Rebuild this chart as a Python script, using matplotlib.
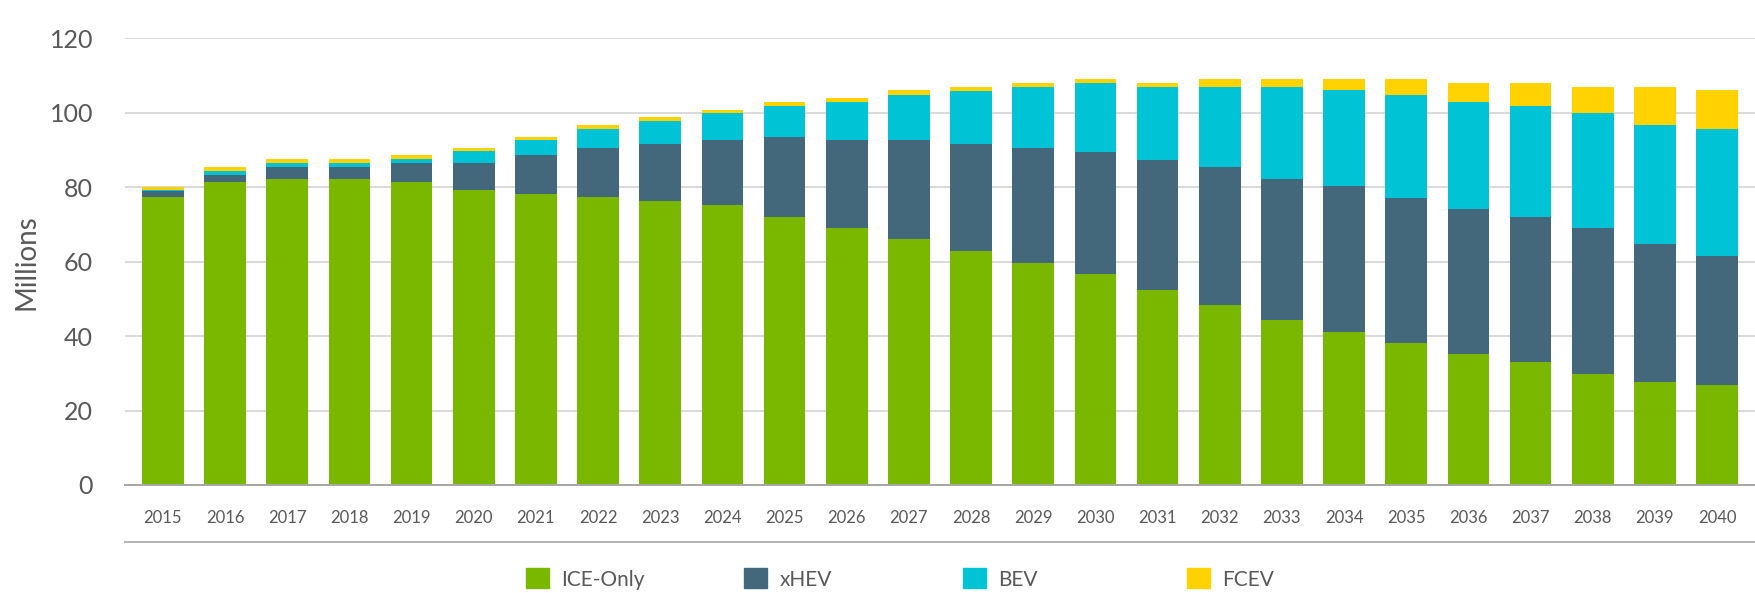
import numpy as np
import matplotlib
matplotlib.use("Agg")
import matplotlib.pyplot as plt
from matplotlib.lines import Line2D
from matplotlib.patches import Patch

# data (millions of vehicles)
years = [str(y) for y in range(2015, 2041)]
ice_only = [77.3, 81.3, 82.3, 82.3, 81.3, 79.3, 78.3, 77.3, 76.2, 75.1, 72.0, 69.0, 66.0,
            62.9, 59.7, 56.7, 52.5, 48.4, 44.3, 41.2, 38.1, 35.1, 33.0, 29.9, 27.8, 26.8]
xhev = [1.8, 2.0, 3.2, 3.2, 5.1, 7.1, 10.3, 13.2, 15.4, 17.5, 21.6, 23.6, 26.6,
        28.7, 30.8, 32.8, 34.9, 37.0, 38.0, 39.1, 39.1, 39.0, 38.9, 39.1, 37.0, 34.8]
bev = [0.2, 1.1, 1.1, 1.1, 1.1, 3.2, 4.0, 5.1, 6.1, 7.2, 8.2, 10.4, 12.3,
       14.3, 16.5, 18.6, 19.6, 21.6, 24.7, 25.7, 27.7, 28.9, 29.9, 30.8, 31.9, 34.1]
fcev = [0.8, 0.9, 0.9, 0.9, 1.1, 0.9, 1.0, 1.0, 1.1, 0.9, 1.1, 0.9, 1.1,
        1.1, 1.0, 1.0, 1.0, 2.1, 2.1, 3.1, 4.2, 5.0, 6.2, 7.2, 10.3, 10.3]

series = [("ICE-Only", ice_only, "#7ab800"),
          ("xHEV", xhev, "#43687b"),
          ("BEV", bev, "#00c4d6"),
          ("FCEV", fcev, "#ffd200")]

plt.rcParams['font.family'] = ['Lato', 'DejaVu Sans']

fig = plt.figure(figsize=(17.55, 5.93), dpi=100)
ax = fig.add_axes([125 / 1755, 1 - 485 / 593, 1 - 125 / 1755, (485 - 38.3) / 593])

x = np.arange(len(years))
bottom = np.zeros(len(years))
for name, vals, col in series:
    ax.bar(x, vals, 0.67, bottom=bottom, color=col, zorder=3)
    bottom += np.array(vals)

ax.set_ylim(0, 120)
ax.set_xlim(-0.61, len(years) - 0.39)
ax.set_yticks(range(0, 121, 20))
ax.set_xticks(x)
ax.set_xticklabels(years)
ax.tick_params(axis='x', length=0, pad=18, labelsize=12, labelcolor='#595959')
ax.tick_params(axis='y', length=0, pad=23, labelsize=18, labelcolor='#595959')
ax.grid(axis='y', color='#d9d9d9', lw=1.4, zorder=0)
for s in ['top', 'right', 'left']:
    ax.spines[s].set_visible(False)
ax.spines['bottom'].set_color('#a6a6a6')
ax.spines['bottom'].set_linewidth(1.4)
ax.spines['bottom'].set_zorder(4)
ax.set_ylabel('Millions', fontsize=20, color='#595959', labelpad=7)

# separator line above legend
fig.add_artist(Line2D([125 / 1755, 1.0], [1 - 542 / 593] * 2, color='#b3b3b3', lw=1.4))

# legend: one entry per slot
slots = [526, 744, 963, 1187]
for (name, vals, col), px in zip(series, slots):
    fig.legend(handles=[Patch(color=col)], labels=[name], loc='center left',
               bbox_to_anchor=(px / 1755, 1 - 579 / 593), frameon=False,
               fontsize=15, handlelength=1.1, handleheight=1.1,
               handletextpad=0.6, borderpad=0, borderaxespad=0,
               labelcolor='#595959')

fig.savefig("out.png", dpi=100, facecolor='white')
